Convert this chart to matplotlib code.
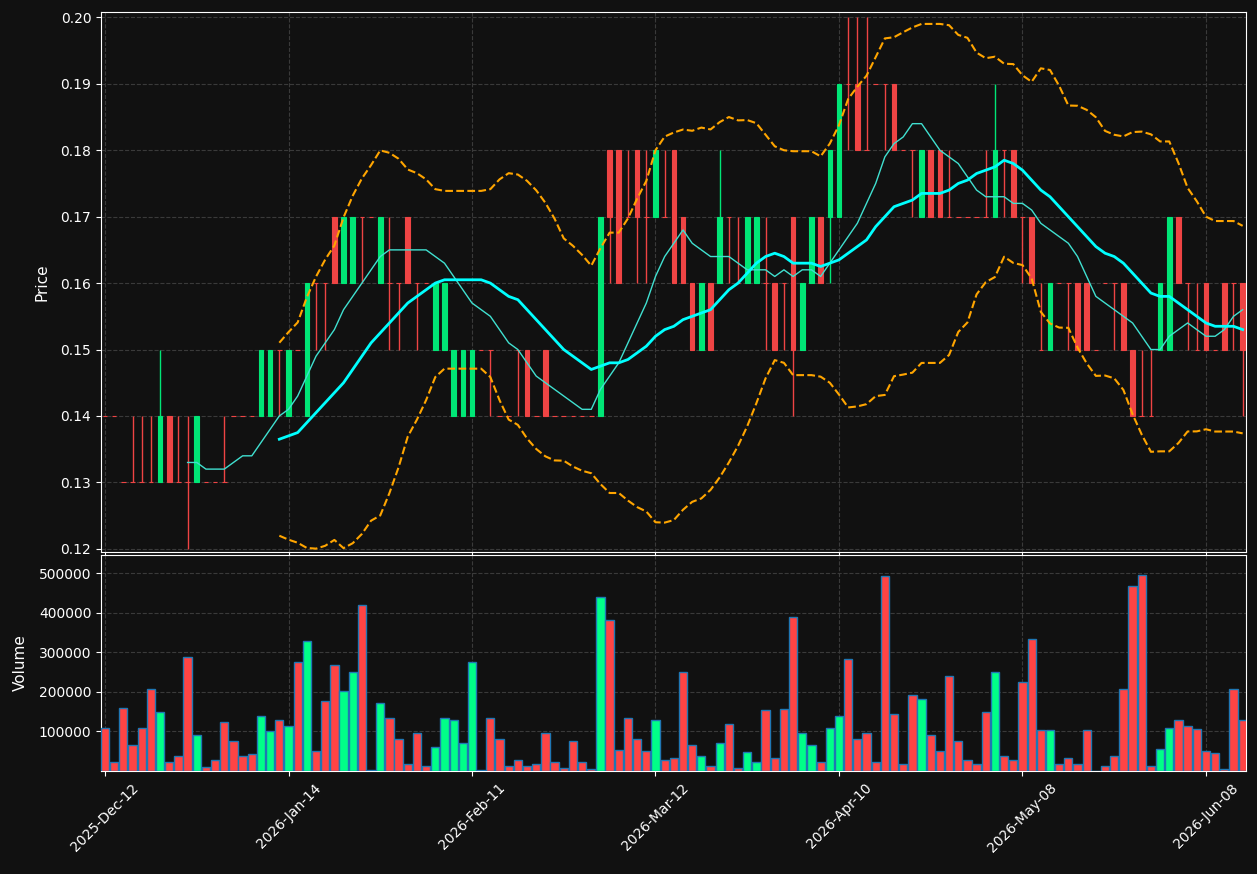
import numpy as np
import pandas as pd
import matplotlib
matplotlib.use("Agg")
import matplotlib.pyplot as plt

# trading days (weekdays minus a few market holidays)
holidays = ["2025-12-25", "2025-12-26", "2026-01-01", "2026-02-16", "2026-04-03", "2026-05-25"]
dates = [d for d in pd.bdate_range("2025-12-12", "2026-06-12") if d.strftime("%Y-%m-%d") not in holidays]

opens = [.14, .14, .13, .13, .13, .13, .13, .14, .13, .13,
         .13, .13, .13, .13, .14, .14, .14, .14, .14, .15,
         .14, .15, .14, .16, .16, .17, .16, .16, .17, .17,
         .16, .16, .16, .17, .16, .16, .15, .15, .14, .14,
         .14, .15, .15, .14, .14, .15, .15, .14, .15, .14,
         .14, .14, .14, .14, .14, .18, .18, .17, .18, .17,
         .17, .17, .18, .17, .16, .15, .16, .16, .17, .16,
         .16, .16, .16, .16, .16, .17, .15, .16, .17, .17,
         .17, .19, .19, .18, .19, .19, .19, .18, .18, .17,
         .18, .18, .17, .17, .17, .17, .17, .17, .18, .18,
         .17, .17, .15, .15, .16, .16, .16, .16, .15, .16,
         .16, .16, .15, .14, .14, .15, .15, .17, .16, .15,
         .16, .15, .16, .16, .16]
highs = [.14, .14, .13, .14, .14, .14, .15, .14, .14, .14,
         .14, .13, .13, .14, .14, .14, .14, .15, .15, .15,
         .15, .15, .16, .16, .16, .17, .17, .17, .17, .17,
         .17, .17, .16, .17, .16, .16, .16, .16, .15, .15,
         .15, .15, .15, .14, .14, .15, .15, .14, .15, .14,
         .14, .14, .14, .14, .17, .18, .18, .18, .18, .18,
         .18, .18, .18, .17, .16, .16, .16, .18, .17, .17,
         .17, .17, .17, .16, .16, .17, .16, .17, .17, .18,
         .19, .20, .20, .20, .19, .19, .19, .18, .18, .18,
         .18, .18, .18, .17, .17, .17, .18, .19, .18, .18,
         .17, .17, .16, .16, .16, .16, .16, .16, .15, .16,
         .16, .16, .15, .15, .15, .16, .17, .17, .16, .16,
         .16, .15, .16, .16, .16]
lows = [.14, .14, .13, .13, .13, .13, .13, .13, .13, .12,
        .13, .13, .13, .13, .14, .14, .14, .14, .14, .14,
        .14, .15, .14, .15, .15, .16, .16, .16, .16, .17,
        .16, .15, .15, .16, .15, .16, .15, .15, .14, .14,
        .14, .15, .14, .14, .14, .14, .14, .14, .14, .14,
        .14, .14, .14, .14, .14, .16, .16, .17, .16, .16,
        .17, .17, .16, .16, .15, .15, .15, .16, .16, .16,
        .16, .16, .15, .15, .15, .14, .15, .16, .16, .16,
        .17, .18, .18, .18, .19, .18, .18, .18, .17, .17,
        .17, .17, .17, .17, .17, .17, .17, .17, .17, .17,
        .16, .16, .15, .15, .16, .15, .15, .15, .15, .16,
        .15, .15, .14, .14, .14, .15, .15, .16, .15, .15,
        .15, .15, .15, .15, .14]
closes = [.14, .14, .13, .13, .13, .13, .14, .13, .13, .13,
          .14, .13, .13, .13, .14, .14, .14, .15, .15, .15,
          .15, .15, .16, .16, .16, .16, .17, .17, .17, .17,
          .17, .16, .16, .16, .16, .16, .16, .16, .15, .15,
          .15, .15, .15, .14, .14, .15, .14, .14, .14, .14,
          .14, .14, .14, .14, .17, .17, .16, .17, .17, .17,
          .18, .17, .16, .16, .15, .16, .15, .17, .17, .16,
          .17, .17, .16, .15, .16, .15, .16, .17, .16, .18,
          .19, .19, .18, .18, .19, .19, .18, .18, .18, .18,
          .17, .17, .17, .17, .17, .17, .17, .18, .18, .17,
          .17, .16, .15, .16, .16, .16, .15, .15, .15, .16,
          .16, .15, .14, .14, .14, .16, .17, .16, .16, .15,
          .15, .15, .15, .16, .15]
volumes = [110000, 22000, 160000, 65000, 110000, 208000, 148000, 24000, 37000, 287000,
           92000, 9000, 29000, 123000, 77000, 37000, 42000, 138000, 100000, 130000,
           115000, 276000, 329000, 50000, 178000, 269000, 203000, 249000, 420000, 2000,
           173000, 135000, 80000, 19000, 97000, 14000, 60000, 135000, 128000, 72000,
           276000, 2000, 135000, 80000, 12000, 27000, 12000, 19000, 95000, 22000,
           7000, 75000, 24000, 4000, 440000, 382000, 52000, 135000, 82000, 50000,
           130000, 27000, 34000, 251000, 65000, 37000, 14000, 72000, 120000, 7000,
           47000, 24000, 155000, 34000, 158000, 390000, 95000, 67000, 24000, 108000,
           140000, 284000, 82000, 95000, 22000, 493000, 145000, 17000, 191000, 181000,
           92000, 50000, 239000, 77000, 27000, 17000, 148000, 251000, 39000, 27000,
           224000, 334000, 103000, 103000, 19000, 32000, 19000, 103000, 0, 14000,
           37000, 208000, 468000, 496000, 14000, 55000, 108000, 130000, 113000, 105000,
           50000, 45000, 4000, 208000, 128000]

df = pd.DataFrame({"Open": opens, "High": highs, "Low": lows, "Close": closes,
                   "Volume": volumes}, index=dates)
df["MA10"] = df["Close"].rolling(10).mean()
df["MA20"] = df["Close"].rolling(20).mean()
std20 = df["Close"].rolling(20).std(ddof=0)
df["BBU"] = df["MA20"] + 2 * std20
df["BBL"] = df["MA20"] - 2 * std20

x = np.arange(len(df))
up = df["Close"] > df["Open"]
bg = "#111111"
c_up, c_dn = "#00e676", "#ef4444"
v_up, v_dn = "#00ff88", "#ff4444"

fig = plt.figure(figsize=(12.57, 8.74), dpi=100, facecolor=bg)
ax = fig.add_axes([0.0804, 0.3684, 0.9109, 0.6178])
axv = fig.add_axes([0.0804, 0.1178, 0.9109, 0.2471], sharex=ax)

for a in (ax, axv):
    a.set_facecolor(bg)
    for s in a.spines.values():
        s.set_color("white")
    a.tick_params(colors="white", labelsize=10)
    a.grid(True, linestyle="--", color="#3a3a3a", linewidth=0.8)
    a.set_axisbelow(True)

# candles
ccol = np.where(up, c_up, c_dn)
ax.vlines(x, df["Low"], df["High"], colors=ccol, linewidth=1, zorder=2)
body_lo = np.minimum(df["Open"], df["Close"])
body_h = (df["Close"] - df["Open"]).abs()
ax.bar(x, body_h, bottom=body_lo, width=0.5, color=ccol, edgecolor=ccol,
       linewidth=0.8, zorder=3)

ax.plot(x, df["MA10"], color="#40e0d0", linewidth=1, zorder=4)
ax.plot(x, df["MA20"], color="#00ffff", linewidth=2, zorder=4)
ax.plot(x, df["BBU"], color="orange", linestyle="--", linewidth=1.5, zorder=4)
ax.plot(x, df["BBL"], color="orange", linestyle="--", linewidth=1.5, zorder=4)

ax.set_ylim(df["Low"].min() * 0.996, df["High"].max() * 1.004)
ax.set_yticks(np.arange(0.12, 0.201, 0.01))
ax.yaxis.set_major_formatter(plt.FormatStrFormatter("%.2f"))
ax.set_ylabel("Price", color="white", fontsize=11, labelpad=8)
plt.setp(ax.get_xticklabels(), visible=False)

# volume
vcol = np.where(up, v_up, v_dn)
axv.bar(x, df["Volume"], width=0.9, color=vcol, edgecolor="#1f77b4", linewidth=1, zorder=3)
axv.set_ylim(0, df["Volume"].max() * 1.1)
axv.set_yticks([100000, 200000, 300000, 400000, 500000])
axv.ticklabel_format(axis="y", style="plain")
axv.set_ylabel("Volume", color="white", fontsize=11, labelpad=8)

tick_pos = x[::20]
axv.set_xticks(tick_pos)
axv.set_xticklabels([dates[i].strftime("%Y-%b-%d") for i in tick_pos], rotation=45)
axv.set_xlim(-0.43, len(df) - 0.63)

fig.savefig("out.png", dpi=100, facecolor=bg)
